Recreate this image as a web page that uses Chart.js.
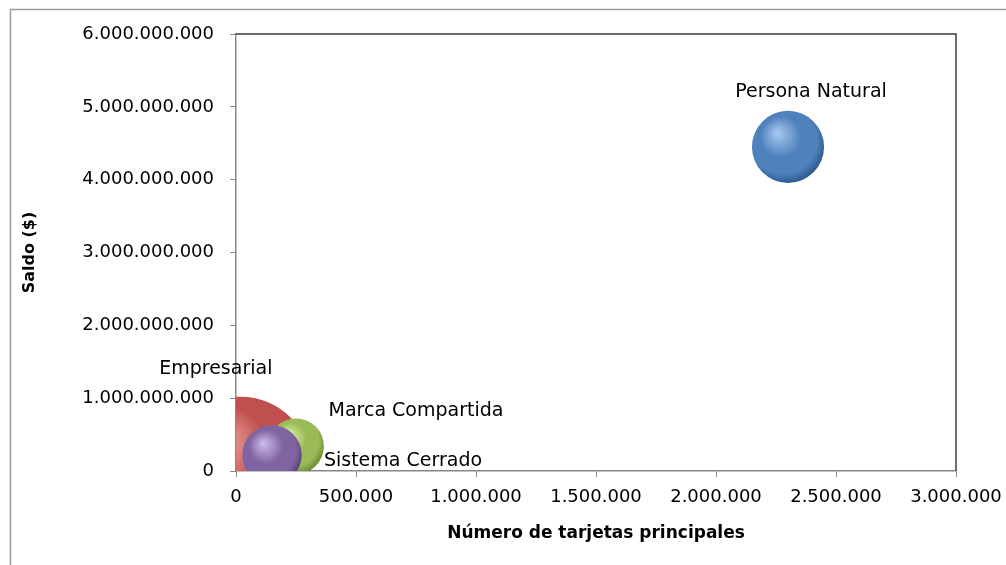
<!DOCTYPE html>
<html>
<head>
<meta charset="utf-8">
<script src="https://cdn.jsdelivr.net/npm/chart.js@4/dist/chart.umd.min.js"></script>
<style>
  html, body { margin: 0; padding: 0; background: #fff; overflow: hidden; }
  #wrap { width: 1006px; height: 565px; }
</style>
</head>
<body>
<div id="wrap"><canvas id="chart"></canvas></div>
<script>
// datos
const tipos = ["Empresarial", "Persona Natural", "Marca Compartida", "Sistema Cerrado"];
const tarjetas = [20000, 2300000, 250000, 150000];
const saldos = [60000000, 4450000000, 340000000, 220000000];
const tamanos = [100, 26.5, 15.8, 18];
const xTicks = [0, 500000, 1000000, 1500000, 2000000, 2500000, 3000000];
const yTicks = [0, 1000000000, 2000000000, 3000000000, 4000000000, 5000000000, 6000000000];

const colores = ["#c0504d", "#4f81bd", "#9bbb59", "#8064a2"];
const claros = ["#f3a9a7", "#a9cbf2", "#e0f3ac", "#cdbde9"];
const oscuros = ["#97302d", "#2f5a8f", "#718f36", "#57437e"];
const RMAX = 70;
// desplazamiento de cada etiqueta respecto al centro de su burbuja
const offsets = [[-25, -98], [23, -55], [120, -35], [131, 6]];

const FONT = "'DejaVu Sans', sans-serif";

function fmt(v) {
    return String(v).replace(/\B(?=(\d{3})+(?!\d))/g, ".");
}

const maxTam = Math.max(...tamanos);
const puntos = tipos.map((t, i) => ({
    x: tarjetas[i],
    y: saldos[i],
    r: RMAX * Math.sqrt(tamanos[i] / maxTam)
}));

// relleno tipo esfera
function esfera(ctx) {
    const chart = ctx.chart;
    const i = ctx.dataIndex;
    if (!chart.chartArea || i === undefined) return colores[i || 0];
    const p = puntos[i];
    const x = chart.scales.x.getPixelForValue(p.x);
    const y = chart.scales.y.getPixelForValue(p.y);
    const r = p.r;
    const g = chart.ctx.createRadialGradient(x - r * 0.3, y - r * 0.4, 0, x - r * 0.1, y - r * 0.15, r * 1.15);
    g.addColorStop(0, claros[i]);
    g.addColorStop(0.5, colores[i]);
    g.addColorStop(0.82, colores[i]);
    g.addColorStop(1, oscuros[i]);
    return g;
}

const marco = {
    id: "marco",
    beforeDraw(chart) {
        const c = chart.ctx;
        c.save();
        c.strokeStyle = "#9a9a9a";
        c.lineWidth = 1.5;
        c.beginPath();
        c.moveTo(10.5, 600);
        c.lineTo(10.5, 9.5);
        c.lineTo(1100, 9.5);
        c.stroke();
        c.restore();
    },
    beforeDatasetsDraw(chart) {
        const a = chart.chartArea;
        const c = chart.ctx;
        c.save();
        c.strokeStyle = "#3c3c3c";
        c.lineWidth = 1.5;
        c.beginPath();
        c.moveTo(a.left, a.top);
        c.lineTo(a.right, a.top);
        c.lineTo(a.right, a.bottom);
        c.stroke();
        c.restore();
    }
};

const etiquetas = {
    id: "etiquetas",
    afterDatasetsDraw(chart) {
        const c = chart.ctx;
        const meta = chart.getDatasetMeta(0);
        c.save();
        c.font = "19px " + FONT;
        c.fillStyle = "#000";
        c.textAlign = "center";
        c.textBaseline = "middle";
        meta.data.forEach((el, i) => {
            c.fillText(tipos[i], el.x + offsets[i][0], el.y + offsets[i][1]);
        });
        c.restore();
    }
};

new Chart(document.getElementById("chart"), {
    type: "bubble",
    data: {
        datasets: [{
            label: "Saldo",
            data: puntos,
            backgroundColor: esfera,
            borderWidth: 0,
            clip: 0
        }]
    },
    options: {
        responsive: true,
        maintainAspectRatio: false,
        animation: false,
        events: [],
        layout: { autoPadding: false, padding: { top: 34, right: 50, left: 0, bottom: 0 } },
        plugins: {
            legend: { display: false },
            tooltip: { enabled: false }
        },
        scales: {
            x: {
                type: "linear",
                min: 0,
                max: 3000000,
                afterFit: s => { s.height = 94; s.paddingLeft = 0; s.paddingRight = 0; },
                afterBuildTicks: s => { s.ticks = xTicks.map(v => ({ value: v })); },
                grid: { drawOnChartArea: false, drawTicks: true, tickLength: 6, color: "#868686" },
                border: { color: "#868686", width: 1.5 },
                ticks: {
                    color: "#000",
                    font: { family: FONT, size: 18 },
                    padding: 10,
                    maxRotation: 0,
                    callback: v => fmt(v)
                },
                title: {
                    display: true,
                    text: "Número de tarjetas principales",
                    color: "#000",
                    font: { family: FONT, size: 17, weight: "bold" },
                    padding: { bottom: 21 }
                }
            },
            y: {
                type: "linear",
                min: 0,
                max: 6000000000,
                afterFit: s => { s.width = 236; s.paddingTop = 0; s.paddingBottom = 0; },
                afterBuildTicks: s => { s.ticks = yTicks.map(v => ({ value: v })); },
                grid: { drawOnChartArea: false, drawTicks: true, tickLength: 6, color: "#868686" },
                border: { color: "#868686", width: 1.5 },
                ticks: {
                    color: "#000",
                    font: { family: FONT, size: 18 },
                    padding: 16,
                    callback: v => fmt(v)
                },
                title: {
                    display: true,
                    text: "Saldo ($)",
                    color: "#000",
                    font: { family: FONT, size: 16, weight: "bold" },
                    padding: { top: 20 }
                }
            }
        }
    },
    plugins: [marco, etiquetas]
});
</script>
</body>
</html>
